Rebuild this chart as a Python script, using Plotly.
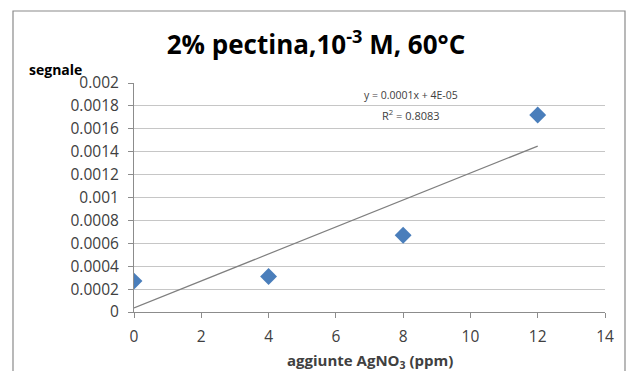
import numpy as np
import plotly.graph_objects as go

# AgNO3 additions (ppm) and measured signal
additions_ppm = [0, 4, 8, 12]
signal = [0.00027, 0.00031, 0.00067, 0.00172]

y_tick_vals = [0, 0.0002, 0.0004, 0.0006, 0.0008, 0.001, 0.0012, 0.0014, 0.0016, 0.0018, 0.002]
y_tick_text = ["0", "0.0002", "0.0004", "0.0006", "0.0008", "0.001", "0.0012",
               "0.0014", "0.0016", "0.0018", "0.002"]
x_tick_vals = [0, 2, 4, 6, 8, 10, 12, 14]

equation_text = "y = 0.0001x + 4E-05"
r2_text = "R<sup>2</sup> = 0.8083"

# least-squares linear trend over the data range
x_arr = np.array(additions_ppm, dtype=float)
y_arr = np.array(signal, dtype=float)
slope, intercept = np.polyfit(x_arr, y_arr, 1)
trend_x = [x_arr.min(), x_arr.max()]
trend_y = [intercept + slope * v for v in trend_x]

FONT = "Open Sans"
TEXT = "#404040"

fig = go.Figure()
fig.add_trace(go.Scatter(
    x=trend_x, y=trend_y, mode="lines",
    line=dict(color="#7f7f7f", width=1.2),
    hoverinfo="skip", showlegend=False,
))
fig.add_trace(go.Scatter(
    x=additions_ppm, y=signal, mode="markers",
    marker=dict(symbol="diamond", size=13, color="#4a7ebb"),
    showlegend=False,
))

fig.update_layout(
    width=632, height=371,
    margin=dict(l=134, r=27, t=83, b=59),
    paper_bgcolor="white", plot_bgcolor="white",
    font=dict(family=FONT, color=TEXT, size=15),
    title=dict(
        text="<b>2% pectina,10<sup>-3</sup> M, 60°C</b>",
        x=316 / 632, xanchor="center", xref="container",
        y=1 - 45 / 371, yanchor="middle", yref="container",
        font=dict(family=FONT, size=26, color="black"),
    ),
    xaxis=dict(
        range=[0, 14], tickvals=x_tick_vals,
        showgrid=False, zeroline=False, automargin=False,
        showline=True, linecolor="#8c8c8c", linewidth=1,
        ticks="outside", ticklen=5, tickcolor="#8c8c8c",
        ticklabelstandoff=5,
        tickfont=dict(size=15.5, color=TEXT),
    ),
    yaxis=dict(
        range=[0, 0.002], tickvals=y_tick_vals, ticktext=y_tick_text,
        showgrid=True, gridcolor="#c6c6c6", gridwidth=1,
        zeroline=False, automargin=False,
        showline=True, linecolor="#8c8c8c", linewidth=1,
        ticks="outside", ticklen=5, tickcolor="#8c8c8c",
        ticklabelstandoff=6,
        tickfont=dict(size=15.5, color=TEXT),
    ),
    shapes=[dict(
        type="rect", xref="paper", yref="paper",
        x0=(13 - 134) / 471, x1=(625 - 134) / 471,
        y0=-(390 - 312) / 229, y1=(312 - 11) / 229,
        line=dict(color="#8a8a8a", width=1.2), fillcolor="rgba(0,0,0,0)",
        layer="below",
    )],
    annotations=[
        dict(text="<b>segnale</b>", xref="paper", yref="paper",
             x=(27 - 134) / 471, y=(312 - 69) / 229, xanchor="left", yanchor="middle",
             showarrow=False, font=dict(size=14, color="black")),
        dict(text="<b>aggiunte AgNO<sub>3</sub> (ppm)</b>", xref="paper", yref="paper",
             x=0.5, y=-(361 - 312) / 229, xanchor="center", yanchor="middle",
             showarrow=False, font=dict(size=15, color=TEXT)),
        dict(text=equation_text, xref="paper", yref="paper",
             x=(411 - 134) / 471, y=(312 - 95) / 229, xanchor="center", yanchor="middle",
             showarrow=False, font=dict(size=10.5, color=TEXT)),
        dict(text=r2_text, xref="paper", yref="paper",
             x=(411 - 134) / 471, y=(312 - 115) / 229, xanchor="center", yanchor="middle",
             showarrow=False, font=dict(size=11, color=TEXT)),
    ],
)

fig.write_html("out.html")
